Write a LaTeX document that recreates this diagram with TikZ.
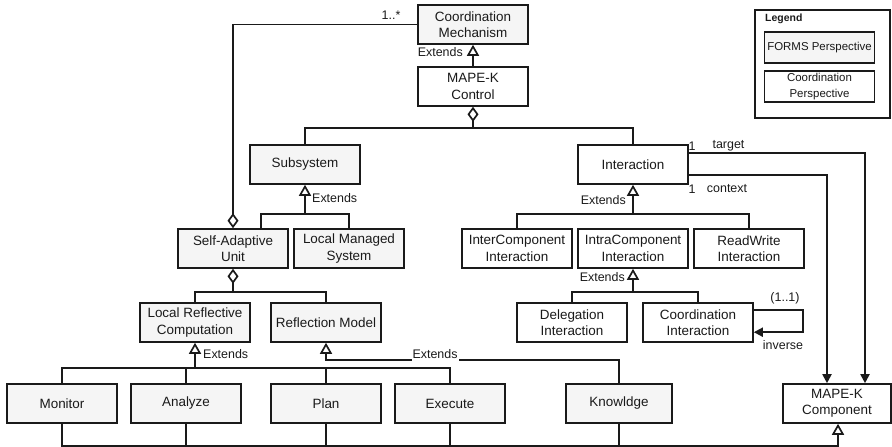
\documentclass[tikz,border=0pt]{standalone}
\usepackage{fontspec}
\setmainfont{Liberation Sans}
\usetikzlibrary{arrows.meta,calc}
\definecolor{ink}{HTML}{1A1A1A}
\definecolor{formsfill}{HTML}{F5F5F5}
\begin{document}
\begin{tikzpicture}[x=1bp,y=-1bp,color=ink,
  conn/.style={draw=ink,line width=1.9bp},
  box/.style={rectangle,draw=ink,line width=1.6bp,minimum width=110bp,minimum height=39bp,
    inner sep=0pt,align=center,font=\fontsize{13.5}{16.5}\selectfont},
  forms/.style={box,fill=formsfill},
  coordbox/.style={box,fill=white},
  lbl/.style={font=\fontsize{12.5}{14}\selectfont,inner sep=0pt},
  ext/.style={conn,-{Triangle[open,length=11bp,width=12bp,line width=1.7bp]}},
  aggr/.style={conn,-{Diamond[open,length=15bp,width=11bp,line width=1.7bp]}},
  nav/.style={conn,-{Triangle[length=9bp,width=9bp]}}]
\useasboundingbox (0,0) rectangle (892,447);

% classes
\node[forms] (cm) at (473,24.5) {Coordination\\Mechanism};
\node[coordbox] (ctrl) at (473,86.5) {MAPE-K\\Control};
\node[forms] (sub) at (305,164.5) {Subsystem};
\node[coordbox] (inter) at (633,164.5) {Interaction};
\node[forms] (sau) at (233,248.5) {Self-Adaptive\\Unit};
\node[forms] (lms) at (349,248.5) {Local Managed\\System};
\node[coordbox] (icomp) at (517,248.5) {InterComponent\\Interaction};
\node[coordbox] (intra) at (633,248.5) {IntraComponent\\Interaction};
\node[coordbox] (rw) at (749,248.5) {ReadWrite\\Interaction};
\node[forms] (lrc) at (195,322.5) {Local Reflective\\Computation};
\node[forms] (rm) at (326,322.5) {Reflection Model};
\node[coordbox] (deleg) at (572,322.5) {Delegation\\Interaction};
\node[coordbox] (coordi) at (698,322.5) {Coordination\\Interaction};
\node[forms] (mon) at (62,403.5) {Monitor};
\node[forms] (ana) at (186,403.5) {Analyze};
\node[forms] (plan) at (326,403.5) {Plan};
\node[forms] (exe) at (450,403.5) {Execute};
\node[forms,minimum width=106bp] (know) at (619,403.5) {Knowldge};
\node[coordbox,minimum width=108bp] (mkc) at (837,403.5) {MAPE-K\\Component};

% legend
\node[draw=ink,line width=1.3bp,minimum width=135bp,minimum height=108bp,inner sep=0pt] (legend) at (822.5,64) {};
\node[font=\bfseries\fontsize{10.5}{12}\selectfont,anchor=west,inner sep=0pt] (legtitle) at (765,19) {Legend};
\node[forms,minimum height=31bp,font=\fontsize{11.5}{15}\selectfont] (legforms) at (819.5,47.5) {FORMS Perspective};
\node[coordbox,minimum height=31bp,font=\fontsize{11.5}{15.5}\selectfont] (legcoord) at (819.5,86.5) {Coordination\\Perspective};

% junction points
\coordinate (jctrl) at (473,128);
\coordinate (jsub) at (305,214);
\coordinate (jsau) at (233,292);
\coordinate (jlrc) at (195,368);
\coordinate (jrm) at (326,360);
\coordinate (jinter) at (633,214);
\coordinate (jintra) at (633,292);
\coordinate (jbottom) at ($(mkc.south)+(1,22)$);

% MAPE-K Control extends Coordination Mechanism
\draw[ext] (ctrl.north) -- (cm.south);
\node[lbl,anchor=east] (extcm) at (463,52) {Extends};

% MAPE-K Control aggregates Subsystem and Interaction
\draw[aggr] (jctrl) -- (ctrl.south);
\draw[conn] (sub.north) |- (jctrl) -| (inter.north);

% Self-Adaptive Unit aggregated by Coordination Mechanism
\draw[conn,{Diamond[open,length=15bp,width=11bp,line width=1.7bp]}-] (sau.north) |- (cm.west);
\node[lbl] (mult) at (391,15) {1..*};

% Subsystem specialisations
\draw[ext] (jsub) -- (sub.south);
\draw[conn] ($(sau.north east)+(-28,0)$) |- (jsub) -| (lms.north);
\node[lbl,anchor=west] (extsub) at (312,198) {Extends};

% Self-Adaptive Unit parts
\draw[aggr] (jsau) -- (sau.south);
\draw[conn] (lrc.north) |- (jsau) -| (rm.north);

% MAPE steps extend Local Reflective Computation
\draw[ext] (jlrc) -- (lrc.south);
\draw[conn] (mon.north) |- (jlrc) -| (exe.north);
\draw[conn] (ana.north) -- (ana.north |- jlrc);
\draw[conn] (plan.north) -- (plan.north |- jlrc);
\node[lbl,anchor=west] (extlrc) at (203,354) {Extends};

% Knowledge extends Reflection Model
\draw[ext] (know.north) |- (jrm) -- (rm.south);
\node[lbl,fill=white,inner xsep=1pt,inner ysep=3pt] (extrm) at (435,354) {Extends};

% Interaction specialisations
\draw[ext] (jinter) -- (inter.south);
\draw[conn] (icomp.north) |- (jinter) -| (rw.north);
\node[lbl,anchor=east] (extinter) at (626,200) {Extends};

\draw[ext] (jintra) -- (intra.south);
\draw[conn] (deleg.north) |- (jintra) -| (coordi.north);
\node[lbl,anchor=east] (extintra) at (625,277) {Extends};

% target and context associations
\draw[nav] ($(inter.north east)+(0,9)$) -| ($(mkc.north)+(28,0)$);
\draw[nav] ($(inter.south east)+(0,-10)$) -| ($(mkc.north)+(-10,0)$);
\node[lbl] (t1) at (692,146) {1};
\node[lbl] (tname) at (728.5,146) {target};
\node[lbl] (c1) at (692,189) {1};
\node[lbl] (cname) at (727,189) {context};

% inverse self association
\draw[nav] ($(coordi.north east)+(0,8)$) -- ++(49,0) -- ++(0,22) -- ($(coordi.north east)+(0,30)$);
\node[lbl] (invmult) at (785,298) {(1..1)};
\node[lbl] (invname) at (783,345) {inverse};

% every step is a MAPE-K Component
\draw[ext] (mon.south) |- (jbottom) -- ($(mkc.south)+(1,0)$);
\draw[conn] (ana.south) -- (ana.south |- jbottom);
\draw[conn] (plan.south) -- (plan.south |- jbottom);
\draw[conn] (exe.south) -- (exe.south |- jbottom);
\draw[conn] (know.south) -- (know.south |- jbottom);
\end{tikzpicture}
\end{document}
